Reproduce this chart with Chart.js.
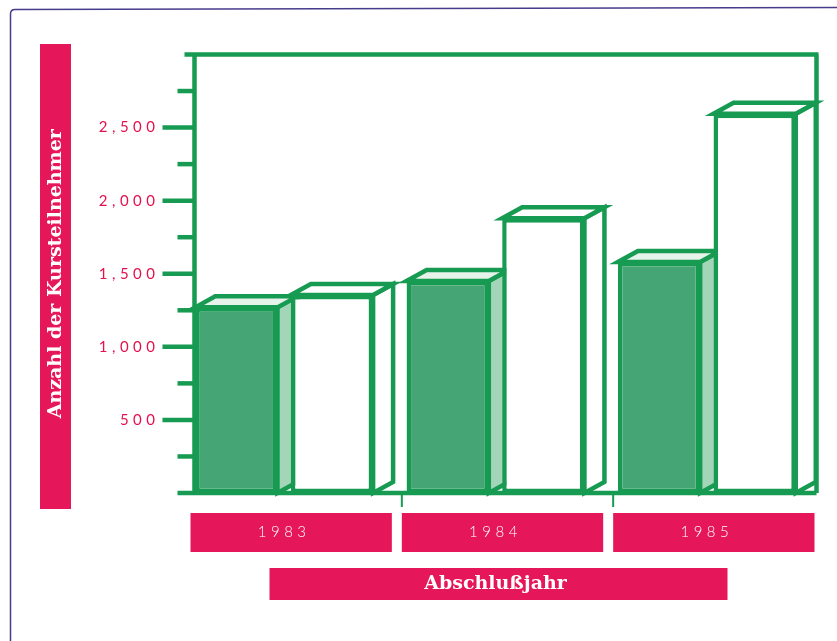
<!DOCTYPE html>
<html>
<head>
<meta charset="utf-8">
<script src="https://cdn.jsdelivr.net/npm/chart.js@4.4.1/dist/chart.umd.min.js"></script>
<style>
  html, body { margin: 0; padding: 0; background: #fff; overflow: hidden; }
</style>
</head>
<body>
<canvas id="chart" width="837" height="641"></canvas>
<script>
// data
const years = ['1983', '1984', '1985'];
const shadedValues = [1270, 1450, 1580];
const openValues = [1355, 1880, 2595];
const yMax = 3000;
const yStep = 250;
const labelStep = 500;

const GREEN = '#179a52';
const CRIMSON = '#e5175a';
const DEPTH_X = 20;
const DEPTH_Y = 11;
const LINE = 4.5;
const BACK = 16; // back wall sits a bit right of the front plane

const faces = [
  { side: '#a3d5b8', top: '#e6f3ea' },
  { side: '#ffffff', top: '#ffffff' },
];

const boxes3d = {
  id: 'boxes3d',
  beforeDraw(chart) {
    const { ctx, scales: { x } } = chart;
    ctx.save();
    ctx.fillStyle = '#fff';
    ctx.fillRect(0, 0, chart.width, chart.height);

    // thin page border
    ctx.strokeStyle = '#463c8c';
    ctx.lineWidth = 1.5;
    ctx.beginPath();
    ctx.moveTo(10.5, chart.height);
    ctx.lineTo(10.5, 14);
    ctx.quadraticCurveTo(10.5, 9.5, 15, 9.5);
    ctx.lineTo(chart.width, 7.5);
    ctx.stroke();

    // label bands
    ctx.fillStyle = CRIMSON;
    ctx.fillRect(40, 44, 31, 465);
    const bw = (x.right - x.left) / years.length;
    years.forEach((_, i) => {
      const s = x.left + i * bw;
      ctx.fillRect(s + 12, 513, bw - 10, 39);
    });
    const cx = (x.left + x.right) / 2;
    ctx.fillRect(cx - 226, 568, 458, 32);
    ctx.restore();
  },
  beforeDatasetsDraw(chart) {
    const { ctx, chartArea: a, scales: { x, y } } = chart;
    const ax = a.left + BACK;
    const rx = a.right + 4;
    ctx.save();
    ctx.strokeStyle = GREEN;
    ctx.lineWidth = LINE;
    ctx.beginPath();
    ctx.moveTo(ax - 10, a.top); ctx.lineTo(rx + 2, a.top);
    ctx.moveTo(ax, a.top); ctx.lineTo(ax, a.bottom + 2);
    ctx.moveTo(rx, a.top); ctx.lineTo(rx, a.bottom);
    ctx.moveTo(ax, a.bottom); ctx.lineTo(rx, a.bottom);
    ctx.stroke();

    y.ticks.forEach(t => {
      if (t.value >= yMax) return;
      const py = y.getPixelForValue(t.value);
      const major = t.value > 0 && t.value % labelStep === 0;
      ctx.beginPath();
      ctx.moveTo(ax - (major ? 32 : 17), py);
      ctx.lineTo(ax, py);
      ctx.stroke();
    });

    const bw = (x.right - x.left) / years.length;
    ctx.lineWidth = 2;
    for (let i = 1; i < years.length; i++) {
      const px = x.left + i * bw + 12;
      ctx.beginPath();
      ctx.moveTo(px, a.bottom);
      ctx.lineTo(px, a.bottom + 14);
      ctx.stroke();
    }

    // side and top faces; the library draws the front faces over them
    ctx.lineWidth = LINE;
    ctx.lineJoin = 'miter';
    chart.data.datasets.forEach((ds, di) => {
      const meta = chart.getDatasetMeta(di);
      meta.data.forEach(bar => {
        const { x: bx, y: by, base, width } = bar.getProps(['x', 'y', 'base', 'width'], true);
        const l = bx - width / 2, r = bx + width / 2;
        ctx.fillStyle = faces[di].side;
        ctx.beginPath();
        ctx.moveTo(r, by);
        ctx.lineTo(r + DEPTH_X, by - DEPTH_Y);
        ctx.lineTo(r + DEPTH_X, base - DEPTH_Y);
        ctx.lineTo(r, base);
        ctx.closePath();
        ctx.fill();
        ctx.stroke();
        ctx.fillStyle = faces[di].top;
        ctx.beginPath();
        ctx.moveTo(l, by);
        ctx.lineTo(l + DEPTH_X, by - DEPTH_Y);
        ctx.lineTo(r + DEPTH_X, by - DEPTH_Y);
        ctx.lineTo(r, by);
        ctx.closePath();
        ctx.fill();
        ctx.stroke();
      });
    });
    ctx.restore();
  },
  afterDatasetsDraw(chart) {
    // tick labels are on a later layer; give them the spaced-out look
    chart.ctx.letterSpacing = '4.5px';
  },
  afterDraw(chart) {
    chart.ctx.letterSpacing = '0px';
  },
};

new Chart(document.getElementById('chart'), {
  type: 'bar',
  data: {
    labels: years,
    datasets: [
      {
        data: shadedValues,
        backgroundColor: '#46a574',
        borderColor: GREEN,
        borderWidth: LINE,
        borderSkipped: false,
      },
      {
        data: openValues,
        backgroundColor: '#ffffff',
        borderColor: GREEN,
        borderWidth: LINE,
        borderSkipped: false,
      },
    ],
  },
  options: {
    responsive: false,
    animation: false,
    categoryPercentage: 0.905,
    barPercentage: 0.86,
    layout: { padding: { left: 0, top: 54.5, right: 24.5, bottom: 0 } },
    plugins: { legend: { display: false }, tooltip: { enabled: false } },
    scales: {
      x: {
        grid: { display: false, drawTicks: false },
        border: { display: false },
        ticks: {
          z: 1,
          padding: 30,
          maxRotation: 0,
          color: '#ffffff',
          font: { family: 'Lato', weight: 300, size: 15 },
        },
        title: {
          display: true,
          text: 'Abschlußjahr',
          color: '#ffffff',
          padding: { top: 0, bottom: 46 },
          font: { family: 'DejaVu Serif', weight: 'bold', size: 19 },
        },
        afterFit(scale) { scale.height = 148; },
      },
      y: {
        min: 0,
        max: yMax,
        grid: { display: false, drawTicks: false },
        border: { display: false },
        ticks: {
          z: 1,
          stepSize: yStep,
          autoSkip: false,
          maxTicksLimit: 20,
          padding: 19,
          color: '#e3124f',
          font: { family: 'Lato', weight: 400, size: 15 },
          callback: (v) => (v > 0 && v < yMax && v % labelStep === 0) ? v.toLocaleString('en-US') : '',
        },
        title: {
          display: true,
          text: 'Anzahl der Kursteilnehmer',
          color: '#ffffff',
          padding: { top: 45, bottom: 0 },
          font: { family: 'DejaVu Serif', weight: 'bold', size: 19 },
        },
        afterFit(scale) { scale.width = 178.5; },
      },
    },
  },
  plugins: [boxes3d],
});
</script>
</body>
</html>
